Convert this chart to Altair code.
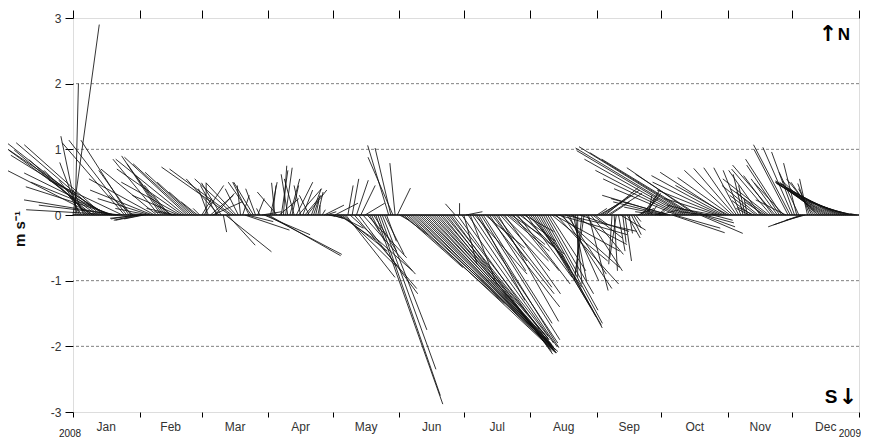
import altair as alt
import pandas as pd

# ---------------- data (daily current vectors, m/s) ----------------
month_names = ["Jan", "Feb", "Mar", "Apr", "May", "Jun", "Jul", "Aug", "Sep", "Oct", "Nov", "Dec"]
month_days = [31, 29, 31, 30, 31, 30, 31, 31, 30, 31, 30, 31]
year_labels = ["2008", "2009"]
y_ticks = [-3, -2, -1, 0, 1, 2, 3]
grid_levels = [-2, -1, 1, 2]

jan_u = [0.40, 0.05, -0.25, -0.30, -0.19, -0.16, -0.41, -0.67, -0.93, -1.19, -1.33, -1.34, -1.40, -1.29, -1.20, -1.51,
         -1.47, -1.30, -1.23, -1.34, -1.40, -1.40, -1.24, -1.12, -0.95, -0.88, -0.73, -0.49, -0.37, -0.37, -0.36]
jan_v = [2.90, 2.00, 1.20, 0.80, 0.30, 0.38, 0.53, 0.68, 0.84, 0.99, 0.68, 0.99, 1.10, 1.10, 1.07, 1.02,
         0.91, 0.64, 0.50, 0.43, 0.23, 0.08, 0.15, 0.53, 1.10, 1.14, 1.14, 0.68, 0.30, -0.06, -0.08]
feb_u = [-0.45, -0.40, -0.30, -0.25, -0.50, -0.80, -0.95, -1.00, -0.85, -0.70, -0.60, -0.55, -0.45, -0.35, -0.25,
         -0.20, -0.30, -0.45, -0.70, -0.90, -1.00, -1.05, -0.95, -0.85, -0.70, -0.55, -0.40, -0.25, -0.10]
feb_v = [-0.05, -0.08, -0.06, 0.02, 0.10, 0.25, 0.38, 0.55, 0.70, 0.85, 0.90, 0.78, 0.60, 0.45, 0.30,
         0.15, 0.05, 0.10, 0.30, 0.50, 0.70, 0.85, 0.88, 0.78, 0.65, 0.50, 0.35, 0.20, 0.10]
mar_u = [0.15, 0.30, 0.00, -0.15, 0.35, 0.45, 0.30, -0.25, -0.50, -0.30, 0.05, 0.70, 0.42, -1.04, -0.95, -0.60,
         -0.46, -0.20, -0.05, 0.10, 0.68, 0.40, -0.25, -0.35, -0.30, -0.15, 0.10, -0.05, 0.30, 0.70, 1.15]
mar_v = [0.25, 0.45, 0.49, 0.40, 0.30, 0.20, 0.33, 0.45, 0.55, 0.49, -0.26, -0.56, -0.46, 0.73, 0.70, 0.55,
         0.49, 0.40, 0.45, 0.30, -0.23, -0.10, 0.50, 0.50, 0.50, 0.40, 0.25, 0.10, 0.05, -0.30, -0.60]
apr_u = [1.10, 0.10, 0.05, -0.05, -0.30, 0.30, 0.10, 0.05, 0.10, -0.10, 0.15, 0.10, -0.15, 0.25, 0.35,
         -0.10, 0.15, 0.25, 0.30, -0.15, 0.15, 0.10, 0.05, 0.08, 0.00, 0.05, 0.30, 0.15, 0.10, 0.20]
apr_v = [-0.62, 0.50, 0.45, 0.49, 0.35, 0.25, 0.68, 0.75, 0.72, 0.62, 0.55, 0.45, 0.55, 0.50, 0.40,
         0.45, 0.38, 0.30, 0.38, 0.30, 0.40, 0.30, 0.22, 0.35, 0.15, 0.08, 0.15, 0.05, -0.02, -0.05]
may_u = [0.15, 0.35, 0.40, 0.55, 0.70, 0.80, 0.75, 0.08, 0.95, 0.10, 0.95, 0.18, 0.90, 0.22, 0.80, 0.30,
         0.60, 0.15, 0.20, 0.35, 1.02, 0.95, 0.85, 0.68, 0.30, 0.15, -0.32, -0.24, -0.38, -0.08, 0.20]
may_v = [-0.05, 0.18, -0.20, -0.38, -0.55, -0.78, -0.95, 0.45, -0.85, 0.55, -1.12, 0.53, -1.20, 0.45, -0.90, 0.18,
         -0.65, -0.25, -0.40, -0.55, -2.88, -2.75, -2.35, -1.75, -0.60, -0.40, 1.06, 1.02, 0.88, 0.79, 0.41]
jun_u = [0.15, 0.40, 0.90, 1.50, 2.25, 2.25, 2.20, 2.15, 2.10, 2.05, 2.05, 1.98, 1.95, 1.90, 1.88,
         1.82, 1.80, 1.74, 1.72, 1.66, 1.65, 1.58, 1.60, 1.52, 1.55, 1.45, -0.15, 1.50, 0.00, 1.40]
jun_v = [-0.08, -0.30, -0.80, -1.35, -2.10, -2.08, -2.10, -2.05, -2.08, -2.02, -2.06, -2.00, -2.05, -1.98, -2.04,
         -1.96, -2.02, -1.95, -2.00, -1.90, -2.05, -1.88, -2.08, -1.90, -2.12, -1.85, 0.17, -2.10, 0.18, -1.95]
jul_u = [0.20, 0.25, 1.35, 0.40, 1.30, 0.80, 1.25, 0.70, 1.20, 1.05, 0.60, 1.10, 0.55, 0.95, 0.50, 0.85,
         0.92, 0.75, 0.70, 0.85, 0.65, 0.55, 0.45, 0.70, 0.60, 0.80, 0.55, 0.65, 0.45, 0.70, 0.55]
jul_v = [-0.75, 0.05, -2.00, -1.05, -1.95, -0.90, -2.02, -1.30, -1.90, -1.65, -0.50, -1.40, -0.85, -1.20, -0.70, -1.10,
         -1.62, -0.85, -0.70, -1.20, -0.55, -0.45, -0.30, -0.85, -0.50, -1.05, -0.40, -0.65, -0.25, -0.95, -0.60]
aug_u = [0.60, 0.75, 0.85, 0.90, 0.95, 0.93, 0.90, 0.80, 0.70, 0.55, 0.85, 1.00, 0.95, 1.05, 0.90, 0.75,
         1.10, 0.60, 0.45, 0.85, 0.20, 0.10, 0.00, 0.75, -0.10, -0.15, 0.55, 0.30, 0.50, 0.45, 0.20]
aug_v = [-0.80, -1.10, -1.40, -1.55, -1.68, -1.72, -1.65, -1.45, -1.20, -0.85, -0.70, -0.55, -1.05, -0.30, -0.80, -1.12,
         -0.25, -0.90, -1.00, -0.45, -1.00, -1.05, -0.95, -0.25, -0.90, -1.00, -0.85, -1.15, -0.60, -0.35, -0.15]
sep_u = [0.15, 0.35, 0.45, 0.55, 0.50, 0.52, 0.30, -0.05, 0.05, -0.10, 0.10, 0.38, 0.05, 0.10, 0.20,
         0.05, 0.15, 0.12, 0.08, 0.25, 0.28, 0.22, 0.25, 0.20, 0.05, 0.10, -0.10, 0.15, 0.20, 0.30]
sep_v = [0.10, 0.20, 0.30, 0.38, 0.42, 0.33, 0.20, -0.75, -0.85, -0.65, -0.55, -0.23, -0.42, -0.70, -0.35,
         -0.28, -0.30, -0.20, -0.10, 0.10, 0.25, 0.30, 0.33, 0.38, 0.30, 0.15, 0.10, 0.05, 0.15, 0.08]
oct_u = [-0.40, -0.60, -0.80, -1.00, -0.90, 0.80, 0.70, -0.95, -1.15, -1.30, -1.50, -1.65, -1.70, -1.68, -1.55, -1.40,
         -1.05, -0.95, 0.65, 0.50, 0.45, -0.60, -0.45, -0.30, 0.30, -0.55, -0.80, -0.95, -1.05, -1.10, -1.00]
oct_v = [0.05, 0.12, 0.20, 0.30, 0.25, -0.27, -0.20, 0.40, 0.55, 0.68, 0.85, 0.98, 1.02, 1.04, 0.95, 0.85,
         0.72, 0.62, -0.28, -0.18, -0.12, 0.15, 0.05, 0.02, -0.08, 0.10, 0.25, 0.38, 0.50, 0.60, 0.65]
nov_u = [-0.80, -0.80, -0.73, -0.62, -0.50, -0.38, -0.27, -0.15, -0.10, -0.05, -0.20, -0.30, -0.25, -0.40, -0.55,
         -0.48, -0.40, -0.30, -0.55, -0.70, -0.60, -0.45, -0.65, -0.40, -0.50, -0.55, -0.45, -0.46, -0.52, -0.56]
nov_v = [0.45, 0.57, 0.68, 0.71, 0.72, 0.72, 0.68, 0.62, 0.45, 0.25, 0.10, 0.22, 0.12, 0.30, 0.45,
         0.68, 0.35, 0.20, 0.40, 0.55, 0.70, 0.60, 0.76, 0.55, 0.76, 0.85, 0.49, 0.23, 1.00, 1.07]
dec_u = [-0.45, -0.35, -0.20, -0.30, -0.50, -0.45, -0.30, -0.12, -0.18, -0.20, -0.35, -0.45, -0.55, -0.62, -0.70, -0.72,
         -0.78, -0.80, -0.85, -0.88, -0.85, -0.80, -0.78, -0.75, -0.72, -0.68, -0.60, -0.50, -0.40, -0.25, -0.10]
dec_v = [1.03, 0.96, 0.79, 0.65, -0.18, -0.15, -0.08, 0.55, 0.48, 0.40, 0.50, 0.55, 0.52, 0.50, 0.50, 0.48,
         0.50, 0.48, 0.50, 0.52, 0.48, 0.42, 0.38, 0.33, 0.30, 0.25, 0.20, 0.15, 0.10, 0.05, 0.02]

u_all = jan_u + feb_u + mar_u + apr_u + may_u + jun_u + jul_u + aug_u + sep_u + oct_u + nov_u + dec_u
v_all = jan_v + feb_v + mar_v + apr_v + may_v + jun_v + jul_v + aug_v + sep_v + oct_v + nov_v + dec_v
n_days = sum(month_days)
sticks = pd.DataFrame({"day": list(range(n_days)), "u": u_all, "v": v_all})

bounds = [0]
for d in month_days:
    bounds.append(bounds[-1] + d)
months = pd.DataFrame({"name": month_names,
                       "mid": [bounds[i] + month_days[i] / 2 for i in range(12)]})
grid = pd.DataFrame({"g": grid_levels})
zero = pd.DataFrame({"z": [0]})

# ---------------- layout ----------------
W, H = 786, 394
YMIN, YMAX = -3, 3
# days per (m/s) so that a stick's length is drawn isotropically
k = (n_days / W) * (H / (YMAX - YMIN))

FONT = "Liberation Sans"
xscale = alt.Scale(domain=[0, n_days], nice=False, zero=False)
yscale = alt.Scale(domain=[YMIN, YMAX], nice=False)

grid_layer = alt.Chart(grid).mark_rule(color="#808080", strokeWidth=1, strokeDash=[3, 2]).encode(
    y=alt.Y("g:Q", scale=yscale,
            axis=alt.Axis(values=y_ticks, tickSize=8, tickColor="#000", tickWidth=1, labelPadding=4,
                          labelFont=FONT, labelFontSize=12, labelColor="#333", domain=False, grid=False,
                          title=None,
                          labelExpr="datum.value < 0 ? '-' + abs(datum.value) : '' + datum.value"))
)

zero_layer = alt.Chart(zero).mark_rule(color="#000000", strokeWidth=1.5).encode(
    y=alt.Y("z:Q", scale=yscale, axis=None)
)

stick_layer = alt.Chart(sticks).transform_calculate(
    xe=f"datum.day + datum.u * {k}", y0="0"
).mark_rule(color="#111111", strokeWidth=1, opacity=0.85).encode(
    x=alt.X("day:Q", scale=xscale,
            axis=alt.Axis(orient="bottom", values=bounds, labels=False, tickSize=5, tickColor="#000",
                          tickWidth=1, domain=False, grid=False, title=None)),
    x2="xe:Q",
    y=alt.Y("y0:Q", scale=yscale, axis=None),
    y2="v:Q",
)

month_layer = alt.Chart(months).mark_text(font=FONT, fontSize=12, color="#333", baseline="middle").encode(
    x=alt.X("mid:Q", scale=xscale,
            axis=alt.Axis(orient="top", values=bounds, labels=False, tickSize=8, tickColor="#000",
                          tickWidth=1, domain=False, grid=False, title=None)),
    y=alt.value(H + 15),
    text="name:N",
)

year_left = alt.Chart(pd.DataFrame({"label": [year_labels[0]], "pos": [0]})).mark_text(
    font=FONT, fontSize=10, color="#222", baseline="middle", align="center", dx=-3).encode(
    x=alt.X("pos:Q", scale=xscale, axis=None), y=alt.value(H + 22), text="label:N")
year_right = alt.Chart(pd.DataFrame({"label": [year_labels[1]], "pos": [n_days]})).mark_text(
    font=FONT, fontSize=10, color="#222", baseline="middle", align="right", dx=2).encode(
    x=alt.X("pos:Q", scale=xscale, axis=None), y=alt.value(H + 22), text="label:N")

ytitle = alt.Chart(pd.DataFrame({"t": ["m s\u207b\u00b9"]})).mark_text(
    font=FONT, fontSize=15, fontWeight="bold", color="#111", angle=270,
    align="center", baseline="middle").encode(x=alt.value(-53), y=alt.value(211), text="t:N")

north_arrow = alt.Chart(pd.DataFrame({"t": ["\u2191"]})).mark_text(
    font="DejaVu Sans", fontSize=22, fontWeight="bold", color="#000", align="center", baseline="middle").encode(
    x=alt.value(755), y=alt.value(16), text="t:N")
north_n = alt.Chart(pd.DataFrame({"t": ["N"]})).mark_text(
    font=FONT, fontSize=17, fontWeight="bold", color="#000", align="center", baseline="middle").encode(
    x=alt.value(771), y=alt.value(17), text="t:N")
south_s = alt.Chart(pd.DataFrame({"t": ["S"]})).mark_text(
    font=FONT, fontSize=19, fontWeight="bold", color="#000", align="center", baseline="middle").encode(
    x=alt.value(758), y=alt.value(379), text="t:N")
south_arrow = alt.Chart(pd.DataFrame({"t": ["\u2193"]})).mark_text(
    font="DejaVu Sans", fontSize=22, fontWeight="bold", color="#000", align="center", baseline="middle").encode(
    x=alt.value(775), y=alt.value(379), text="t:N")

chart = alt.layer(
    grid_layer, zero_layer, stick_layer, month_layer, year_left, year_right,
    ytitle, north_arrow, north_n, south_s, south_arrow
).resolve_axis(x="independent", y="independent").properties(
    width=W, height=H,
    autosize=alt.AutoSizeParams(type="none"),
    padding={"left": 65, "top": 10, "right": 2, "bottom": 28},
).configure_view(stroke="#000000", strokeWidth=1.5).configure(background="white")

chart.save("out.html", embed_options={"renderer": "svg", "actions": False})
